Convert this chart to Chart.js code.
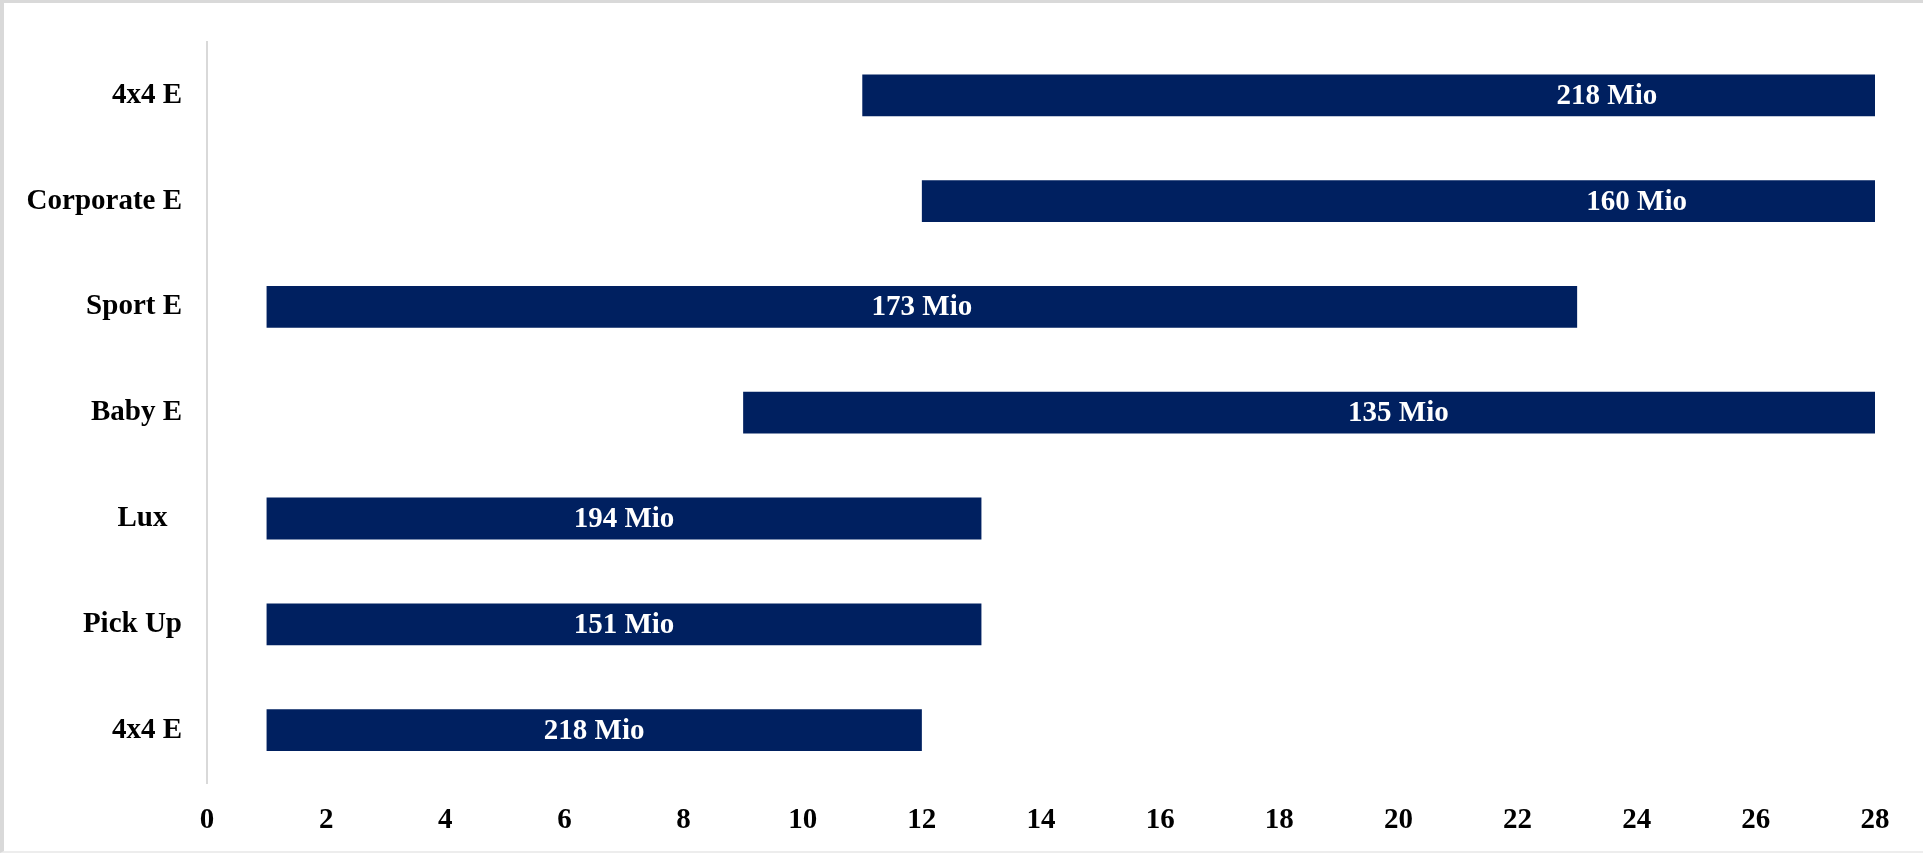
<!DOCTYPE html>
<html>
<head>
<meta charset="utf-8">
<title>Projektlaufzeiten</title>
<script src="https://cdn.jsdelivr.net/npm/chart.js@4/dist/chart.umd.min.js"></script>
<style>
  html, body { margin: 0; padding: 0; background: #ffffff; }
  #wrap { position: relative; width: 1923px; height: 853px; overflow: hidden; }
  #frame {
    position: absolute; left: 0; top: 0; width: 1923px; height: 853px;
    box-sizing: border-box;
    border-left: 4px solid #d9d9d9;
    border-top: 3px solid #d9d9d9;
    border-bottom: 2px solid #ededed;
    pointer-events: none;
  }
  canvas { position: absolute; left: 0; top: 0; }
</style>
</head>
<body>
<div id="wrap">
  <canvas id="chart" width="1923" height="853"></canvas>
  <div id="frame"></div>
</div>
<script>
// Product lines, listed top to bottom
const categories = ['4x4 E', 'Corporate E', 'Sport E', 'Baby E', 'Lux  ', 'Pick Up', '4x4 E'];
// Start and end of each bar on the month axis
const startValues = [11, 12, 1, 9, 1, 1, 1];
const endValues = [36, 36, 23, 31, 13, 13, 12];
// Budget shown inside each bar
const budgetLabels = ['218 Mio', '160 Mio', '173 Mio', '135 Mio', '194 Mio', '151 Mio', '218 Mio'];
// Axis range and tick step
const axisMin = 0;
const axisMax = 28;
const axisStep = 2;

const ranges = startValues.map((s, i) => [s, endValues[i]]);

const FONT = "'Liberation Serif', 'Times New Roman', serif";

// Writes the budget text at the middle of each bar
const barTextPlugin = {
  id: 'barText',
  afterDatasetsDraw(chart) {
    const ctx = chart.ctx;
    const meta = chart.getDatasetMeta(0);
    ctx.save();
    ctx.fillStyle = '#ffffff';
    ctx.font = 'bold 29px ' + FONT;
    ctx.textAlign = 'center';
    ctx.textBaseline = 'middle';
    meta.data.forEach((bar, i) => {
      const cx = (bar.x + bar.base) / 2;
      ctx.fillText(budgetLabels[i], cx, bar.y + 1);
    });
    ctx.restore();
  }
};

new Chart(document.getElementById('chart'), {
  type: 'bar',
  data: {
    labels: categories,
    datasets: [{
      data: ranges,
      backgroundColor: '#002060',
      borderWidth: 0,
      borderSkipped: false,
      barPercentage: 0.395,
      categoryPercentage: 1,
      clip: 0
    }]
  },
  options: {
    indexAxis: 'y',
    responsive: false,
    animation: false,
    devicePixelRatio: 1,
    layout: { padding: { top: 35, right: 48, bottom: 0, left: 0 } },
    plugins: {
      legend: { display: false },
      tooltip: { enabled: false }
    },
    scales: {
      x: {
        type: 'linear',
        min: axisMin,
        max: axisMax,
        grid: { display: false, drawTicks: false },
        border: { display: false },
        ticks: {
          stepSize: axisStep,
          color: '#000000',
          padding: 20,
          font: { family: FONT, size: 29, weight: 'bold' }
        },
        afterFit(scale) { scale.height = 70; }
      },
      y: {
        grid: { display: false, drawTicks: false },
        border: { display: true, color: '#d9d9d9', width: 2 },
        ticks: {
          color: '#000000',
          padding: 25,
          font: { family: FONT, size: 29, weight: 'bold' }
        },
        afterFit(scale) { scale.width = 207; }
      }
    }
  },
  plugins: [barTextPlugin]
});
</script>
</body>
</html>
